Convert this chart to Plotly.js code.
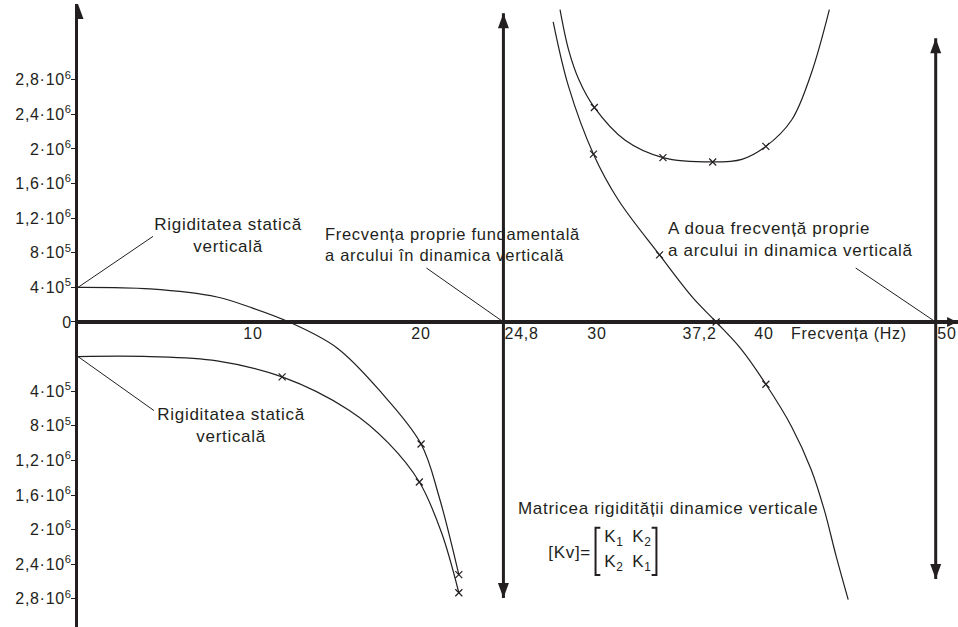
<!DOCTYPE html>
<html>
<head>
<meta charset="utf-8">
<script src="https://cdn.plot.ly/plotly-3.0.1.min.js"></script>
<style>
  html, body { margin: 0; padding: 0; background: #ffffff; }
  #chart { width: 958px; height: 627px; }
  #chart svg text { letter-spacing: 0.7px; }
</style>
</head>
<body>
<div id="chart"></div>
<script>
// Frequency axis (Hz)
const xTickVals = [10, 20, 24.8, 30, 37.2, 40, 50];
const xTickText = ['10', '20', '24,8', '30', '37,2', '40', '50'];

// Stiffness axis (N/m)
const yTickVals = [2.8e6, 2.4e6, 2.0e6, 1.6e6, 1.2e6, 8e5, 4e5, 0,
                   -8e5, -1.2e6, -1.6e6, -2.0e6, -2.4e6, -2.8e6, -3.2e6];
const yTickText = ['2,8·10<sup>6</sup>', '2,4·10<sup>6</sup>', '2·10<sup>6</sup>', '1,6·10<sup>6</sup>',
                   '1,2·10<sup>6</sup>', '8·10<sup>5</sup>', '4·10<sup>5</sup>', '0',
                   '4·10<sup>5</sup>', '8·10<sup>5</sup>', '1,2·10<sup>6</sup>', '1,6·10<sup>6</sup>',
                   '2·10<sup>6</sup>', '2,4·10<sup>6</sup>', '2,8·10<sup>6</sup>'];

// K1 below the fundamental frequency
const k1LowHz  = [0, 4.2, 8.1, 10, 12.3, 15.1, 17.7, 20.0, 21.05, 22.2];
const k1LowVal = [4.0e5, 3.82e5, 2.89e5, 1.73e5, 0, -3.0e5, -8.2e5, -1.41e6, -2.02e6, -2.92e6];
const k1LowMarkHz  = [20.0, 22.2];
const k1LowMarkVal = [-1.41e6, -2.92e6];

// K2 below the fundamental frequency
const k2LowHz  = [0, 4.2, 8.1, 11.9, 15.8, 18.1, 19.9, 21.2, 22.2];
const k2LowVal = [-4.0e5, -4.0e5, -4.5e5, -6.35e5, -1.02e6, -1.40e6, -1.85e6, -2.44e6, -3.13e6];
const k2LowMarkHz  = [11.9, 19.9, 22.2];
const k2LowMarkVal = [-6.35e5, -1.85e6, -3.13e6];

// Branch between the two natural frequencies (minimum near 37 Hz)
const upperHz  = [28.1, 28.6, 29.2, 30.1, 31.9, 34.1, 37.0, 38.7, 40.1, 41.6, 42.75, 43.8];
const upperVal = [3.61e6, 3.145e6, 2.80e6, 2.48e6, 2.10e6, 1.90e6, 1.85e6, 1.88e6, 2.03e6, 2.335e6, 2.875e6, 3.61e6];
const upperMarkHz  = [30.1, 34.1, 37.0, 40.1];
const upperMarkVal = [2.48e6, 1.90e6, 1.85e6, 2.03e6];

// Descending branch crossing zero at 37,2 Hz
const lowerHz  = [27.7, 28.6, 30.05, 31.5, 33.9, 35.8, 37.2, 38.6, 40.1, 41.6, 42.75, 43.5, 44.2, 44.9];
const lowerVal = [3.47e6, 2.72e6, 1.94e6, 1.41e6, 7.75e5, 2.9e5, 0, -3.0e5, -7.2e5, -1.21e6, -1.71e6, -2.17e6, -2.71e6, -3.21e6];
const lowerMarkHz  = [30.05, 33.9, 37.2, 40.1];
const lowerMarkVal = [1.94e6, 7.75e5, 0, -7.2e5];

// Natural frequencies of the spring in vertical dynamics
const naturalHz = [24.8, 50];

const ink = '#231f20';
const font = 'Liberation Sans, Arial, Helvetica, sans-serif';
const xRange = [0, 51.3];
const yRange = [-3.526e6, 3.676e6];

function curve(x, y) {
  return { type: 'scatter', mode: 'lines', x: x, y: y, cliponaxis: false, hoverinfo: 'skip',
           line: { color: ink, width: 1.2, shape: 'spline', smoothing: 1 } };
}
function marks(x, y) {
  return { type: 'scatter', mode: 'markers', x: x, y: y, cliponaxis: false, hoverinfo: 'skip',
           marker: { symbol: 'x-thin', size: 7, color: ink, line: { color: ink, width: 1.2 } } };
}

const traces = [
  curve(k1LowHz, k1LowVal), marks(k1LowMarkHz, k1LowMarkVal),
  curve(k2LowHz, k2LowVal), marks(k2LowMarkHz, k2LowMarkVal),
  curve(upperHz, upperVal), marks(upperMarkHz, upperMarkVal),
  curve(lowerHz, lowerVal), marks(lowerMarkHz, lowerMarkVal)
];

// filled arrow head, tip at (x, y), pixel sized (pixel y grows upward)
function arrowHead(x, y, dir, len, half) {
  let path;
  if (dir === 'up')    path = `M${-half},${-len} L${half},${-len} L0,0 Z`;
  if (dir === 'down')  path = `M${-half},${len} L${half},${len} L0,0 Z`;
  if (dir === 'right') path = `M${-len},${-half} L${-len},${half} L0,0 Z`;
  return { type: 'path', xref: 'x', yref: 'y', xsizemode: 'pixel', ysizemode: 'pixel',
           xanchor: x, yanchor: y, path: path, fillcolor: ink, line: { width: 0 }, layer: 'above' };
}

// thin leader line from a point on the chart to its caption, offsets in px (dy upward)
function leader(x, y, dx, dy) {
  return { type: 'line', xref: 'x', yref: 'y', xsizemode: 'pixel', ysizemode: 'pixel',
           xanchor: x, yanchor: y, x0: 0, y0: 0, x1: dx, y1: dy,
           line: { color: ink, width: 1 }, layer: 'above' };
}

const arrowExtent = [[-3.19e6, 3.57e6], [-2.97e6, 3.28e6]];
const shapes = [];
naturalHz.forEach((f, i) => {
  const [lo, hi] = arrowExtent[i];
  shapes.push({ type: 'line', xref: 'x', yref: 'y', x0: f, x1: f, y0: lo, y1: hi,
                line: { color: ink, width: 3 }, layer: 'above' });
  shapes.push(arrowHead(f, hi, 'up', 15, 5.5));
  shapes.push(arrowHead(f, lo, 'down', 15, 5.5));
});
shapes.push(arrowHead(0, yRange[1], 'up', 15, 5.5));
shapes.push(arrowHead(xRange[1] - 0.05, 0, 'right', 10, 5));

shapes.push(leader(0, k1LowVal[0], 75, 51));
shapes.push(leader(0, k2LowVal[0], 76, -54));
shapes.push(leader(naturalHz[0], 0, -77, 54));
shapes.push(leader(naturalHz[1], 0, -80, 54));

// matrix brackets
const brTop = -2.38e6, brBot = -2.925e6;
shapes.push({ type: 'path', xref: 'x', yref: 'y',
  path: `M30.45,${brTop} L30.17,${brTop} L30.17,${brBot} L30.45,${brBot}`,
  line: { color: ink, width: 2 } });
shapes.push({ type: 'path', xref: 'x', yref: 'y',
  path: `M33.44,${brTop} L33.72,${brTop} L33.72,${brBot} L33.44,${brBot}`,
  line: { color: ink, width: 2 } });

const txt = { family: font, size: 17, color: ink };
const annotations = [];

// frequency tick labels sit on the zero line
const tickAnchor = { '24,8': 'left', '37,2': 'right', '50': 'left' };
const tickShift  = { '24,8': 1, '37,2': 1, '50': 0, '10': 3, '30': 4 };
xTickVals.forEach((v, i) => {
  const t = xTickText[i];
  annotations.push({ x: v, y: 0, xref: 'x', yref: 'y', text: t, showarrow: false,
    xanchor: tickAnchor[t] || 'center', yanchor: 'middle', yshift: -12, xshift: tickShift[t] || 0,
    font: { family: font, size: 16, color: ink } });
});
annotations.push({ x: 41.75, y: 0, xref: 'x', yref: 'y', text: 'Frecvența (Hz)', showarrow: false,
  xanchor: 'left', yanchor: 'middle', yshift: -12, font: { family: font, size: 16, color: ink } });

annotations.push({ x: 8.8, y: 1.0e6, xref: 'x', yref: 'y', showarrow: false, align: 'center',
  text: 'Rigiditatea statică<br>verticală', font: txt, xanchor: 'center', yanchor: 'middle' });
annotations.push({ x: 8.94, y: -1.2e6, xref: 'x', yref: 'y', showarrow: false, align: 'center',
  text: 'Rigiditatea statică<br>verticală', font: txt, xanchor: 'center', yanchor: 'middle' });
annotations.push({ x: 14.3, y: 0.9e6, xref: 'x', yref: 'y', showarrow: false, align: 'left',
  text: 'Frecvența proprie fundamentală<br>a arcului în dinamica verticală',
  font: { family: font, size: 16.5, color: ink }, xanchor: 'left', yanchor: 'middle' });
annotations.push({ x: 34.3, y: 0.95e6, xref: 'x', yref: 'y', showarrow: false, align: 'left',
  text: 'A doua frecvență proprie<br>a arcului in dinamica verticală', font: txt, xanchor: 'left', yanchor: 'middle' });
annotations.push({ x: 25.55, y: -2.16e6, xref: 'x', yref: 'y', showarrow: false, align: 'left',
  text: 'Matricea rigidității dinamice verticale', font: txt, xanchor: 'left', yanchor: 'middle' });
annotations.push({ x: 27.4, y: -2.66e6, xref: 'x', yref: 'y', showarrow: false,
  text: '[Kv]=', font: txt, xanchor: 'left', yanchor: 'middle' });
[['K<sub>1</sub>', 30.6, -2.5e6], ['K<sub>2</sub>', 32.25, -2.5e6],
 ['K<sub>2</sub>', 30.6, -2.79e6], ['K<sub>1</sub>', 32.25, -2.79e6]].forEach(([t, x, y]) => {
  annotations.push({ x: x, y: y, xref: 'x', yref: 'y', showarrow: false, text: t, font: txt,
    xanchor: 'left', yanchor: 'middle' });
});

const layout = {
  width: 958, height: 627,
  margin: { l: 78, r: 0, t: 4, b: 0, pad: 0 },
  paper_bgcolor: '#ffffff', plot_bgcolor: 'rgba(0,0,0,0)',
  showlegend: false,
  xaxis: {
    range: xRange, anchor: 'free',
    position: (0 - yRange[0]) / (yRange[1] - yRange[0]),
    showline: true, linewidth: 4, linecolor: ink,
    tickvals: xTickVals, showticklabels: false,
    ticks: '', showgrid: false, zeroline: false, fixedrange: true
  },
  yaxis: {
    range: yRange, showline: true, linewidth: 3, linecolor: ink,
    ticks: 'outside', ticklen: 4, tickwidth: 1, tickcolor: ink,
    tickvals: yTickVals, ticktext: yTickText, ticklabelstandoff: -4,
    tickfont: { family: font, size: 16, color: ink },
    showgrid: false, zeroline: false, fixedrange: true
  },
  shapes: shapes,
  annotations: annotations
};

Plotly.newPlot('chart', traces, layout, { displayModeBar: false, staticPlot: true });
</script>
</body>
</html>
